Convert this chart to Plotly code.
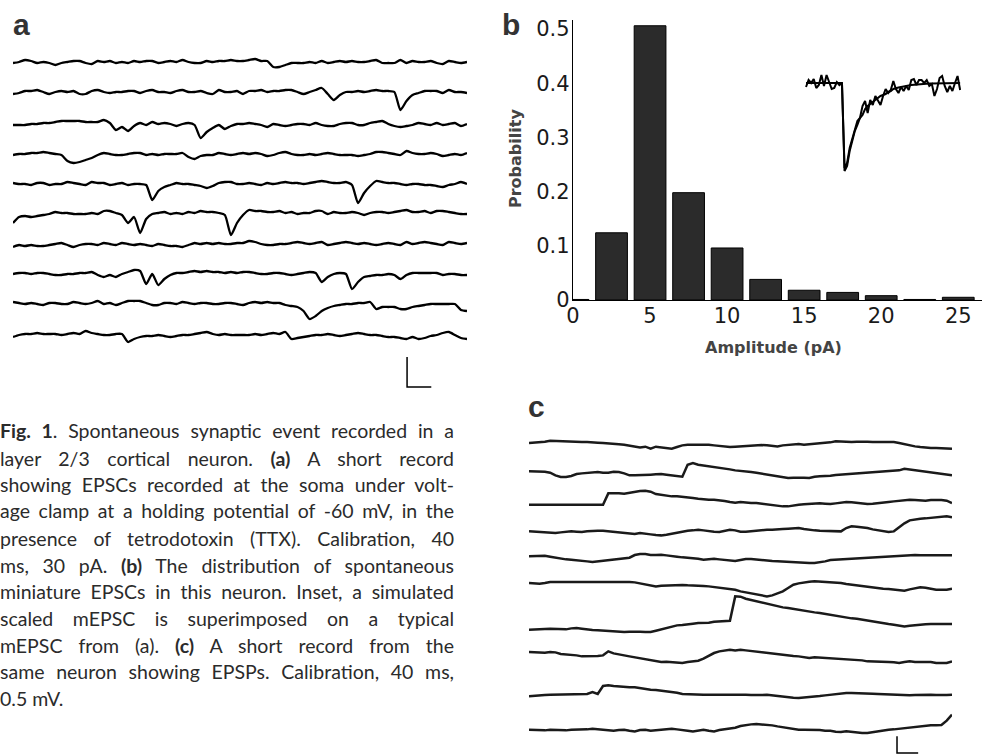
import json
import plotly.graph_objects as go

W, H = 982, 755

# ------------------------------------------------------------------ data
# (a) EPSC records: 10 sweeps, current in pA, sampled every 10 ms
a_time_ms = list(range(0, 760, 10))
a_sweep_1 = [-1,0,2,1,-1,0,-1,-3,-1,0, 1,1,-1,-2,1,0,1,-1,0,-1, 1,0,1,1,-1,0,1,0,2,0, -1,-1,1,0,1,1,2,1,1,
             2,3,1,1,-5,-5,-3,-1,-1,-1, 0,-1,1,-1,0,1,0,1,0,0, 1,2,-1,-1,-1,2,-1,1,0,0, 1,-1,-2,1,0,-1,0]
a_sweep_2 = [-2,-1,1,1,2,0,-2,0,1,0, 1,-2,-2,1,2,0,-1,0,0,1, 1,-1,1,2,0,0,-1,1,2,0, 0,1,-1,-2,2,0,0,1,-2,
             1,1,2,0,1,1,2,2,0,-2, 0,2,4,-2,-8,-3,0,0,1,0, 1,2,1,1,0,-18,-9,-3,-1,1, 1,1,-1,2,0,0,-1]
a_sweep_3 = [-1,-1,-1,0,0,1,1,2,3,3, 3,3,2,2,2,4,1,-6,-3,-7, -2,1,-1,2,0,1,0,-2,0,1, -1,-14,-8,-4,-1,-5,-2,0,0,
             1,0,-1,-3,0,-1,-2,-1,0,0, -1,1,-1,-2,-2,0,1,1,-1,-1, 1,2,3,0,-2,-3,-2,-1,1,0, -1,1,-1,0,1,-2,0]
a_sweep_4 = [-1,0,0,1,1,2,1,0,-1,-7, -9,-8,-6,-4,-1,1,0,-1,-1,0, 1,1,-1,0,-1,0,0,0,1,-3, -5,-2,-1,-1,1,0,-1,0,1,
             0,1,0,-2,-1,1,2,0,-1,-1, 0,-1,0,1,0,-1,-1,-1,-2,-1, 0,2,2,1,0,-1,3,1,0,0, 1,0,-2,-1,0,-1,1]
a_sweep_5 = [1,0,0,-1,1,1,-1,0,0,2, 1,0,-1,2,1,1,-1,0,1,-1, 0,0,-1,-16,-7,-3,-1,1,0,0, -1,-2,-4,-2,1,2,2,0,0,
             1,0,-1,1,0,1,2,1,1,0, 1,2,3,2,1,1,2,-1,-19,-9, -2,3,2,1,1,0,-1,0,0,-1, -1,-2,-3,-1,0,2,0]
a_sweep_6 = [-10,-4,-3,-4,-3,-2,-1,1,0,0, -1,-1,-1,0,-1,2,2,0,-2,-10, -4,-20,-6,-1,0,1,-1,0,-1,1, 0,2,1,1,0,-2,-22,-10,-2,
             3,2,2,1,1,2,0,1,-1,0, 0,2,2,-1,1,0,0,1,0,-2, 0,1,1,0,1,2,3,1,1,2, 0,2,2,1,0,-1,-1]
a_sweep_7 = [-2,0,-1,0,-1,-1,0,1,2,0, -2,0,1,1,0,2,1,0,2,1, 0,1,0,-1,1,0,-1,-1,-2,0, 2,1,2,1,2,1,1,2,2,
             4,3,1,0,0,1,1,2,3,2, 1,2,3,0,1,2,3,2,1,2, 1,0,1,2,1,0,3,1,2,3, 2,1,0,3,2,1,2]
a_sweep_8 = [-1,0,0,-1,0,0,-1,-2,-2,-1, -1,0,0,1,-2,-4,-2,-4,-1,1, 3,2,-11,-1,-12,-6,-2,0,0,1, 2,1,2,1,1,0,1,0,1,
             1,0,-1,-1,0,0,-1,-2,-1,0, 1,0,-9,-4,-1,0,-1,-16,-9,-4, -3,-2,-2,-1,-2,-6,-2,0,0,0, 0,0,-2,-1,-1,-2,-2]
a_sweep_9 = [1,0,-1,0,-1,-2,0,0,-1,-1, 1,0,-1,0,2,-1,0,-2,0,2, 2,2,0,-2,-2,0,0,-1,1,0, -1,0,0,-1,-1,0,0,-1,-2,
             0,1,0,1,0,0,-2,-3,-4,-8, -16,-13,-8,-5,-3,-2,-1,-1,0,0, 1,-6,-4,-4,-4,-6,-6,-4,-3,-2, -1,-1,-1,-1,-1,-7,-8]
a_sweep_10 = [-2,0,1,1,2,1,1,1,0,1, 2,1,4,2,1,0,0,1,1,-7, -4,-2,-1,-1,0,-1,-2,-1,0,0, 1,2,3,1,0,1,0,0,0,
              0,1,0,1,2,1,3,-4,-3,-2, -1,0,0,1,0,-1,0,1,2,1, 0,0,-1,-2,-2,-3,-4,-2,-4,-3, -1,0,2,3,0,-3,-4]
a_sweeps_pA = [a_sweep_1, a_sweep_2, a_sweep_3, a_sweep_4, a_sweep_5,
               a_sweep_6, a_sweep_7, a_sweep_8, a_sweep_9, a_sweep_10]

# (b) amplitude histogram
hist_bin_centers_pA = [0, 2.5, 5, 7.5, 10, 12.5, 15, 17.5, 20, 22.5, 25]
hist_probability = [0.001, 0.124, 0.506, 0.198, 0.096, 0.038, 0.018, 0.014, 0.008, 0.001, 0.005]
b_xticks = [0, 5, 10, 15, 20, 25]
b_yticks = [0, 0.1, 0.2, 0.3, 0.4, 0.5]
b_yticktext = ["0", "0.1", "0.2", "0.3", "0.4", "0.5"]

# (b) inset: recorded mEPSC and simulated mEPSC (pA), 1 ms samples
inset_time_ms = list(range(0, 61))
inset_recorded_pA = [-0.4,0.3,0.0,0.4,-0.5,-0.2,0.8,-0.3,0.8,0.1,-0.6,-0.5,0.1,-0.2,0.0,
                     -8.5,-8.0,-6.5,-5.5,-4.8,-3.8,-3.5,-2.3,-1.8,-3.0,
                     -1.7,-2.2,-1.3,-1.7,-2.2,-1.3,-0.6,-1.0,-0.7,0.2,
                     -0.6,-1.0,-0.4,-0.8,-0.3,-0.7,0.3,0.4,-0.2,0.3,
                     0.3,0.0,0.3,-0.3,-0.1,-1.3,-0.6,0.5,0.7,-0.3,
                     -0.9,-0.3,-0.8,0.0,0.7,-0.7]
inset_simulated_pA = [0,0,0,0,0,0,0,0,0,0,0,0,0,0,0,
                      -8.8,-8.3,-6.8,-5.7,-4.8,-4.2,-3.5,-3.2,-2.6,-2.3,
                      -2.1,-1.9,-1.7,-1.5,-1.3,-1.2,-1.1,-0.9,-0.8,-0.6,
                      -0.5,-0.45,-0.4,-0.33,-0.3,-0.25,-0.2,-0.17,-0.14,-0.12,
                      -0.1,-0.08,-0.07,-0.06,-0.05,-0.04,-0.03,-0.03,-0.02,-0.02,
                      -0.01,-0.01,0,0,0,0]

# (c) EPSP records: 10 sweeps, voltage in microvolts, sampled every 10 ms
c_time_ms = list(range(0, 810, 10))
c_sweep_1 = [50,60,70,90,120,110,100,100,100,90, 80,80,80,60,50,30,20,10,0,-20, -50,-80,-60,-120,-60,-80,-100,-120,-70,-20,
             0,0,20,20,0,-20,-40,-50,-70,-60, -50,-30,-20,0,-10,-20,-30,-50,-20,0, 10,20,0,10,20,30,50,70,100,90,
             80,80,90,100,90,80,80,60,70,80, 50,10,-20,-50,-70,-90,-100,-100,-100,-110, -120]
c_sweep_2 = [50,50,50,40,10,-70,-120,-120,-90,-30, -10,0,20,30,10,10,40,30,-10,-70, -70,-70,-60,-50,-40,-30,-50,-70,-100,-110,
             250,300,250,230,200,180,160,140,110,80, 70,60,30,10,-20,-50,-70,-100,-120,-150, -140,-130,-140,-150,-110,-100,-100,-80,-60,-50,
             -30,-30,0,-10,0,10,30,40,50,60, 80,130,110,80,50,30,20,0,-10,-30, -70]
c_sweep_3 = [-20,-20,-20,-10,-10,0,-10,0,0,-10, 0,-10,-20,-20,-20,320,330,320,310,340, 370,390,400,370,300,270,240,230,230,220,
             200,180,160,140,130,130,120,90,60,40, 60,40,30,30,10,-20,-40,-70,-70,-70, -40,-20,-10,0,20,20,10,0,20,40,
             60,50,30,20,0,10,20,40,60,80, 100,120,130,120,100,100,120,130,120,100, 30]
c_sweep_4 = [20,10,0,-10,-20,-30,-10,10,20,10, 0,20,40,40,40,20,0,-20,-30,-50, -60,-30,-40,-70,-90,-100,-80,-50,-10,10,
             40,50,70,50,20,10,0,40,70,50, 10,10,30,40,50,70,70,70,90,100, 110,120,90,60,50,40,30,20,20,20,
             120,170,160,150,120,80,50,10,0,20, 140,260,350,380,400,410,420,440,450,470, 440]
c_sweep_5 = [50,60,70,70,40,10,-30,-40,-50,-60, -80,-100,-120,-100,-80,-60,-50,-30,-20,10, 90,120,120,90,90,100,80,50,40,20,
             10,0,-20,-50,-30,-20,-40,-60,-80,-90, -60,-30,-30,-50,-60,-80,-90,-100,-110,-120, -140,-150,-150,-150,-150,-130,-100,-60,-50,-40,
             -20,-20,0,10,20,20,20,40,50,70, 80,90,100,90,80,80,90,100,100,90, 80]
c_sweep_6 = [0,-20,-20,0,30,30,30,30,40,50, 40,30,30,40,50,40,30,30,30,30, 20,-10,-50,-80,-100,-80,-70,-60,-50,-60,
             -70,-70,-70,-90,-100,-120,-140,-170,-180,-200, -250,-280,-320,-350,-370,-400,-370,-310,-250,-150, -50,-10,20,40,50,40,30,30,30,0,
             -30,-50,-80,-110,-130,-140,-150,-170,-180,-200, -210,-230,-190,-150,-130,-140,-170,-200,-200,-200, -170]
c_sweep_7 = [0,0,10,20,30,20,0,10,40,50, 30,0,-10,-20,-30,-50,-70,-70,-70,-60, -50,-60,-70,-70,-30,10,70,100,130,140,
             150,180,200,200,210,240,250,270,270,1000, 990,930,890,850,810,770,730,700,670,650, 620,600,570,540,520,500,470,440,410,380,
             360,340,330,300,270,250,230,200,170,150, 120,100,120,140,150,160,170,170,160,170, 170]
c_sweep_8 = [30,20,10,10,30,20,-30,-40,-50,-70, -100,-100,-100,-90,-70,50,-10,-50,-70,-100, -130,-150,-170,-220,-250,-270,-260,-270,-290,-300,
             -270,-250,-230,-170,-80,0,50,80,100,80, 100,80,60,40,20,0,-20,-50,-60,-70, -90,-100,-130,-150,-130,-140,-150,-160,-170,-180,
             -200,-200,-200,-220,-250,-250,-250,-260,-270,-280, -300,-270,-250,-270,-270,-250,-270,-300,-300,-300, -250]
c_sweep_9 = [-50,-30,-20,-10,0,0,0,10,20,0, 10,20,80,20,260,280,260,240,220,220, 220,190,170,150,140,120,110,100,60,20,
             10,0,0,0,0,0,10,20,0,0, 0,0,-10,-20,-10,0,-20,-50,-60,-80, -90,-100,-90,-80,-60,-40,-20,0,20,30,
             50,50,50,50,50,30,20,10,0,0, 0,-10,-20,-10,0,0,0,-10,-20,-10, 0]
c_sweep_10 = [0,-10,-30,-20,0,-10,-30,-20,0,0, 0,10,30,10,0,-20,-30,-10,0,-30, -50,-10,0,-30,-10,0,10,30,10,0,
              -30,-50,-20,0,-30,-50,-10,10,30,60, 110,140,160,170,160,150,130,100,70,50, 20,0,0,0,0,-10,-30,-30,-60,-70,
              -50,-70,-100,-100,-100,-70,-50,-20,0,10, 30,40,50,80,100,120,130,130,140,270, 450]
c_sweeps_uV = [c_sweep_1, c_sweep_2, c_sweep_3, c_sweep_4, c_sweep_5,
               c_sweep_6, c_sweep_7, c_sweep_8, c_sweep_9, c_sweep_10]

# calibration bars
a_cal_ms, a_cal_pA = 40, 30
c_cal_ms, c_cal_uV = 40, 500

# caption (justified lines, last line ragged)
caption_lines = [
    "<b>Fig. 1</b>. Spontaneous synaptic event recorded in a",
    "layer 2/3 cortical neuron. <b>(a)</b> A short record",
    "showing EPSCs recorded at the soma under volt-",
    "age clamp at a holding potential of -60 mV, in the",
    "presence of tetrodotoxin (TTX). Calibration, 40",
    "ms, 30 pA. <b>(b)</b> The distribution of spontaneous",
    "miniature EPSCs in this neuron. Inset, a simulated",
    "scaled mEPSC is superimposed on a typical",
    "mEPSC from (a). <b>(c)</b> A short record from the",
    "same neuron showing EPSPs. Calibration, 40 ms,",
    "0.5 mV.",
]

# ------------------------------------------------------------------ layout helpers (pixels -> paper)
def px(x):
    return x / W

def py(y):
    return 1 - y / H

# row placement of the stacked sweeps
a_row_offsets_pA = [0, -30, -62, -92, -122, -151, -183, -211, -241, -273]
c_row_offsets_uV = [0, -850, -1780, -2620, -3400, -4150, -5550, -6250, -7500, -8550]
caption_baselines = [438, 465, 492, 518, 545, 572, 598, 625, 652, 678, 705]
CAPTION_WIDTH = 454

TXT = "#2b2b2b"
fig = go.Figure()

# ---- panel a
for vals, off in zip(a_sweeps_pA, a_row_offsets_pA):
    fig.add_trace(go.Scatter(x=a_time_ms, y=[off + v for v in vals], mode="lines",
                             line=dict(color="#000", width=2.3, shape="spline", smoothing=0.6),
                             xaxis="x", yaxis="y", hoverinfo="skip", showlegend=False))
A_BAR_T, A_BAR_B = 651, -325
fig.add_trace(go.Scatter(x=[A_BAR_T, A_BAR_T, A_BAR_T + a_cal_ms],
                         y=[A_BAR_B + a_cal_pA, A_BAR_B, A_BAR_B], mode="lines",
                         line=dict(color="#000", width=1.5), xaxis="x", yaxis="y",
                         hoverinfo="skip", showlegend=False))

# ---- panel b
fig.add_trace(go.Bar(x=hist_bin_centers_pA, y=hist_probability, width=2.06,
                     marker=dict(color="#2b2b2b", line=dict(color="#000", width=1)),
                     xaxis="x2", yaxis="y2", hoverinfo="skip", showlegend=False))
fig.add_trace(go.Scatter(x=inset_time_ms, y=inset_recorded_pA, mode="lines",
                         line=dict(color="#000", width=2), xaxis="x3", yaxis="y3",
                         hoverinfo="skip", showlegend=False))
fig.add_trace(go.Scatter(x=inset_time_ms, y=inset_simulated_pA, mode="lines",
                         line=dict(color="#000", width=2), xaxis="x3", yaxis="y3",
                         hoverinfo="skip", showlegend=False))

# ---- panel c
for vals, off in zip(c_sweeps_uV, c_row_offsets_uV):
    fig.add_trace(go.Scatter(x=c_time_ms, y=[off + v for v in vals], mode="lines",
                             line=dict(color="#1a1a1a", width=2.5), xaxis="x4", yaxis="y4",
                             hoverinfo="skip", showlegend=False))
C_BAR_T, C_BAR_B = 696, -9250
fig.add_trace(go.Scatter(x=[C_BAR_T, C_BAR_T, C_BAR_T + c_cal_ms],
                         y=[C_BAR_B + c_cal_uV, C_BAR_B, C_BAR_B], mode="lines",
                         line=dict(color="#000", width=1.5), xaxis="x4", yaxis="y4",
                         hoverinfo="skip", showlegend=False))

hidden = dict(visible=False, showgrid=False, zeroline=False, fixedrange=True)
tickfont = dict(family="DejaVu Sans", size=21, color="#1a1a1a")

annotations = []
def label(text, x, y, size, family, bold=False, color=TXT, xanchor="left", angle=0, align="center"):
    annotations.append(dict(text=f"<b>{text}</b>" if bold else text, x=px(x), y=py(y),
                            xref="paper", yref="paper", showarrow=False,
                            xanchor=xanchor, yanchor="middle", textangle=angle, align=align,
                            borderpad=0, borderwidth=0,
                            font=dict(family=family, size=size, color=color)))

label("a", 13, 25, 30, "Liberation Sans", bold=True, color="#333")
label("b", 502, 25, 30, "Liberation Sans", bold=True, color="#333")
label("c", 528, 406, 30, "Liberation Sans", bold=True, color="#333")
label("Probability", 515, 159, 16, "DejaVu Sans", bold=True, color="#444", xanchor="center", angle=-90)
label("Amplitude (pA)", 773, 347, 16, "DejaVu Sans", bold=True, color="#444", xanchor="center")

for line, base in zip(caption_lines, caption_baselines):
    label(line, 0, base - 7, 19.5, "Lato", color=TXT, xanchor="left", align="left")

fig.update_layout(
    width=W, height=H, margin=dict(l=0, r=0, t=0, b=0, autoexpand=False),
    paper_bgcolor="white", plot_bgcolor="rgba(0,0,0,0)", showlegend=False,
    xaxis=dict(domain=[px(13), px(467)], range=[0, 750], anchor="y", **hidden),
    yaxis=dict(domain=[py(400), py(40)], range=[-338, 22], anchor="x", **hidden),
    xaxis2=dict(domain=[px(573), 1.0], range=[0, 26.54], anchor="y2",
                showline=True, linecolor="#000", linewidth=1.2, ticks="",
                tickvals=b_xticks, tickfont=tickfont, showgrid=False, zeroline=False,
                ticklabelstandoff=-3, fixedrange=True),
    yaxis2=dict(domain=[py(300), py(20)], range=[0, 0.5166], anchor="x2",
                showline=True, linecolor="#000", linewidth=1.2, ticks="",
                tickvals=b_yticks, ticktext=b_yticktext, tickfont=tickfont,
                ticklabelstandoff=-2, showgrid=False, zeroline=False, fixedrange=True),
    xaxis3=dict(domain=[px(800), px(965)], range=[-2.34, 61.9], anchor="y3", **hidden),
    yaxis3=dict(domain=[py(185), py(60)], range=[-10.2, 2.3], anchor="x3", **hidden),
    xaxis4=dict(domain=[px(529), px(952)], range=[0, 800], anchor="y4", **hidden),
    yaxis4=dict(domain=[0, py(425)], range=[-9309, 591], anchor="x4", **hidden),
    annotations=annotations,
)

# page without body margin; justify the caption lines by widening word spacing
plain_lines = [l.replace("<b>", "").replace("</b>", "") for l in caption_lines[:-1]]
post = (
    "document.body.style.margin='0';document.body.style.padding='0';"
    "document.documentElement.style.overflow='hidden';document.body.style.overflow='hidden';"
    "var gd=document.getElementById('{plot_id}');"
    "var targets=" + json.dumps(plain_lines) + ";"
    "var W=" + str(CAPTION_WIDTH) + ";"
    "gd.querySelectorAll('text.annotation-text').forEach(function(t){"
    "var s=t.textContent;if(targets.indexOf(s)<0)return;"
    "var n=(s.match(/ /g)||[]).length;if(!n)return;"
    "var L=t.getComputedTextLength();"
    "t.style.wordSpacing=((W-L)/n)+'px';});"
)

fig.write_html("out.html", config={"displayModeBar": False, "staticPlot": True}, post_script=post)
